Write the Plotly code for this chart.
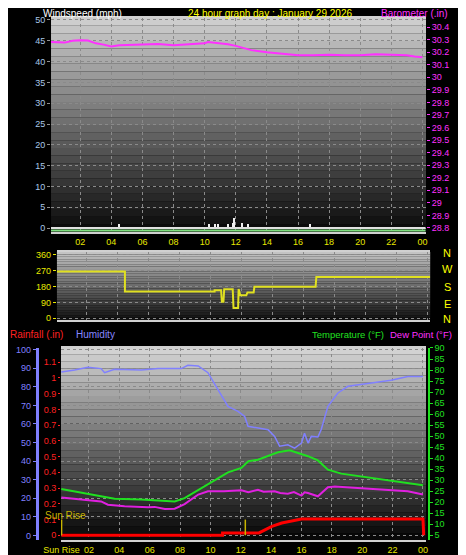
import plotly.graph_objects as go

# ---- data (hours since midnight) ----
baro_h = [0.1, 1, 1.5, 2, 2.5, 3, 3.5, 4, 4.5, 5, 6, 7, 8, 9, 10, 10.2, 11, 11.5, 12, 12.5, 13, 14, 15, 16, 17, 18, 19, 20, 21, 22, 23, 23.5, 24]
baro_v = [30.28, 30.276, 30.29, 30.295, 30.293, 30.27, 30.26, 30.245, 30.255, 30.258, 30.258, 30.265, 30.255, 30.265, 30.27, 30.28, 30.27, 30.262, 30.25, 30.23, 30.216, 30.2, 30.185, 30.176, 30.176, 30.18, 30.176, 30.176, 30.183, 30.18, 30.176, 30.165, 30.16]

wind_h = [4.53, 10.3, 10.7, 10.9, 11.5, 11.82, 11.87, 12.4, 12.8, 16.8]
wind_v = [1, 1, 1, 1, 1, 1.2, 2.3, 1.2, 1, 1]
avg_h = [0.1, 24.2]
avg_v = [0, 0]
gust_v = [-0.6, -0.6]

dir_h = [0.1, 4.49, 4.49, 10.28, 10.28, 10.7, 10.75, 10.85, 10.9, 11.45, 11.5, 11.8, 11.83, 11.94, 12.33, 12.4, 12.8, 12.85, 16.8, 16.85, 24.2]
dir_v = [264, 264, 151, 151, 158, 158, 94, 94, 165, 165, 59, 59, 165, 130, 130, 146, 146, 178, 178, 234, 234]

hum_h = [0.18, 1.06, 1.93, 2.8, 3.03, 3.69, 5.45, 6.55, 8.08, 8.52, 9.2, 9.84, 10.5, 11.16, 11.82, 12.26, 12.48, 13.13, 13.8, 14.23, 14.56, 15.1, 15.55, 16, 16.2, 16.43, 16.65, 17.08, 17.3, 17.74, 18.4, 19.06, 19.94, 20.8, 21.9, 23, 24]
hum_v = [88, 89, 90.5, 89.8, 87.6, 89.4, 89, 89.8, 89.8, 91.6, 91.2, 87.6, 78.5, 69.5, 66.8, 64, 58.7, 57.8, 56.9, 53.3, 48, 48.8, 47, 49.7, 55, 49.7, 53.3, 53, 57, 69.5, 76.7, 80.3, 81.2, 82.4, 83.5, 85.6, 85.6]

temp_h = [0.18, 1.72, 3.03, 3.69, 5.45, 7.65, 8.3, 9.2, 10.0, 10.7, 11.16, 12.04, 12.5, 13.13, 13.8, 14.45, 15.22, 15.77, 16.43, 17.08, 17.74, 18.62, 19.5, 20.8, 22.12, 23.44, 24]
temp_v = [26, 24.2, 22.7, 21.6, 21.2, 20.4, 21.9, 25.7, 29, 31.8, 33.6, 35.6, 38.6, 39.3, 40.9, 42.7, 43.6, 42.4, 40.9, 39, 34.8, 33, 32.1, 31, 29.5, 28, 27.7]

dew_h = [0.18, 1.72, 2.8, 3.25, 4.35, 5.9, 6.33, 7, 7.65, 8.3, 9.2, 9.84, 10.9, 12.04, 12.5, 13.13, 13.5, 14.23, 14.6, 15.1, 15.5, 16, 16.2, 16.43, 17.08, 17.74, 18.2, 19.7, 20.8, 23, 24]
dew_v = [22.2, 21.2, 20.4, 18.9, 18.2, 17.7, 17.9, 17, 17.1, 19.2, 23.5, 25, 25, 25.4, 24.6, 25.7, 24.8, 25, 24.2, 23.9, 24.6, 23, 24.5, 24.2, 22.7, 26.8, 27.2, 26.5, 26, 25, 23.5]

rain_h = [0.18, 10.8, 10.8, 13.2, 13.4, 14.05, 14.7, 15.1, 15.77, 16, 24, 24.05]
rain_v = [0, 0, 0.015, 0.015, 0.025, 0.057, 0.078, 0.085, 0.1, 0.104, 0.104, 0]

top_ticks = [2, 4, 6, 8, 10, 12, 14, 16, 18, 20, 22, 24]
top_labels = ["02", "04", "06", "08", "10", "12", "14", "16", "18", "20", "22", "00"]
bot_ticks = [0.2] + top_ticks
bot_labels = ["Sun Rise"] + top_labels

FONT = "Liberation Sans, Arial, sans-serif"
YEL = "#e8e800"
fig = go.Figure()

fig.add_trace(go.Bar(x=wind_h, y=wind_v, width=0.09, marker_color="#f0f0f0", marker_line_width=0, xaxis="x", yaxis="y"))
fig.add_trace(go.Scatter(x=avg_h, y=avg_v, mode="lines", line=dict(color="#e0e0e0", width=2), xaxis="x", yaxis="y"))
fig.add_trace(go.Scatter(x=avg_h, y=gust_v, mode="lines", line=dict(color="#80e080", width=2), xaxis="x", yaxis="y"))
fig.add_trace(go.Scatter(x=baro_h, y=baro_v, mode="lines", line=dict(color="#ff30ff", width=2), xaxis="x", yaxis="y2"))
fig.add_trace(go.Scatter(x=dir_h, y=dir_v, mode="lines", line=dict(color="#e0e020", width=2), xaxis="x2", yaxis="y3"))
fig.add_trace(go.Scatter(x=hum_h, y=hum_v, mode="lines", line=dict(color="#8080ff", width=1.5), xaxis="x3", yaxis="y4"))
fig.add_trace(go.Scatter(x=temp_h, y=temp_v, mode="lines", line=dict(color="#20e020", width=2), xaxis="x3", yaxis="y6"))
fig.add_trace(go.Scatter(x=dew_h, y=dew_v, mode="lines", line=dict(color="#e020e0", width=2), xaxis="x3", yaxis="y6"))
fig.add_trace(go.Scatter(x=rain_h, y=rain_v, mode="lines", line=dict(color="#ff0000", width=3), xaxis="x3", yaxis="y5"))

# panel gradients
shapes = []
def gradient(xr, yr, top, bot, n=28):
    for i in range(n):
        c = int(top + (bot - top) * i / (n - 1))
        shapes.append(dict(type="rect", xref=xr + " domain", yref=yr + " domain",
                           x0=0, x1=1, y0=1 - (i + 1) / n, y1=1 - i / n,
                           fillcolor=f"rgb({c},{c},{c})", line_width=0, layer="below"))
gradient("x", "y", 205, 12)
gradient("x2", "y3", 195, 18)
gradient("x3", "y4", 210, 8)
# sun rise / noon markers
for h in [0.2, 12.3]:
    shapes.append(dict(type="line", xref="x3", yref="y5", x0=h, x1=h, y0=0, y1=0.1,
                       line=dict(color="#c8b400", width=1.5)))
fig.update_layout(shapes=shapes)

grid = dict(showgrid=True, gridcolor="#8a8a8a", griddash="dot", gridwidth=1, zeroline=False, automargin=False)
tickf = dict(family=FONT, size=9)
xcommon = dict(tickvals=top_ticks, ticktext=top_labels, tickfont=dict(tickf, color=YEL), ticks="", **grid,
               showline=True, linecolor="#d0d0d0", linewidth=2, mirror=True)

fig.update_layout(
    width=466, height=555, margin=dict(l=0, r=0, t=0, b=0),
    paper_bgcolor="black", plot_bgcolor="black", showlegend=False, bargap=0,
    xaxis=dict(domain=[0.0923, 0.897], range=[0.12, 24.23], anchor="y", **xcommon),
    yaxis=dict(domain=[0.5964, 0.982], range=[-0.96, 50.48], tickvals=list(range(0, 51, 5)),
               tickfont=dict(tickf, color="#a8c8e8"), ticks="outside", ticklen=3, tickcolor="#909090", **grid),
    yaxis2=dict(overlaying="y", side="right", anchor="x", range=[28.768, 30.472],
                tickvals=[28.8 + 0.1 * i for i in range(17)],
                ticktext=["28.8", "28.9", "29", "29.1", "29.2", "29.3", "29.4", "29.5", "29.6", "29.7", "29.8", "29.9", "30", "30.1", "30.2", "30.3", "30.4"],
                tickfont=dict(tickf, color="#ff30ff"), ticks="outside", ticklen=3, tickcolor="#ff30ff",
                showgrid=False, zeroline=False, automargin=False),
    xaxis2=dict(domain=[0.105, 0.906], range=[0.1, 24.2], anchor="y3", showticklabels=False, **{k: v for k, v in xcommon.items() if k not in ("tickfont",)}),
    yaxis3=dict(domain=[0.4378, 0.5604], range=[-9.6, 375], tickvals=[0, 90, 180, 270, 360], anchor="x2",
                tickfont=dict(tickf, color=YEL), ticks="outside", ticklen=3, tickcolor=YEL, **grid),
    xaxis3=dict(domain=[0.1137, 0.897], range=[0.16, 24.2], anchor="y4", **dict(xcommon, tickvals=bot_ticks, ticktext=bot_labels)),
    yaxis4=dict(domain=[0.0414, 0.3874], range=[-2.5, 100.9], tickvals=list(range(0, 101, 10)), anchor="free", position=0.062,
                tickfont=dict(tickf, color="#8080ff"), showline=True, linecolor="#8080ff", linewidth=3,
                ticks="outside", ticklen=3, tickcolor="#8080ff", **grid),
    yaxis5=dict(overlaying="y4", range=[-0.03, 1.19], anchor="x3", side="left",
                tickvals=[0.1 * i for i in range(13)],
                ticktext=["0", "0.1", "0.2", "0.3", "0.4", "0.5", "0.6", "0.7", "0.8", "0.9", "1", "1.1", "1.2"],
                tickfont=dict(tickf, color="#ff2020"), ticks="outside", ticklen=2, tickcolor="#ff2020",
                showgrid=False, zeroline=False, automargin=False),
    yaxis6=dict(overlaying="y4", range=[2.87, 90], anchor="free", position=0.903, side="right",
                tickvals=list(range(5, 91, 5)), tickfont=dict(tickf, color="#20e020"),
                showline=True, linecolor="#20e020", linewidth=2, ticks="outside", ticklen=3,
                tickcolor="#20e020", showgrid=False, zeroline=False, automargin=False),
)

def ann(text, x, y, color, xanchor="left", size=10):
    fig.add_annotation(text=text, x=x, y=y, xref="paper", yref="paper", xanchor=xanchor, yanchor="middle",
                       showarrow=False, font=dict(family=FONT, size=size, color=color))

ann("Windspeed (mph)", 33 / 466, 1 - 5 / 555, "white")
ann("24 hour graph day : January 29 2026", 262 / 466, 1 - 5 / 555, "#ffff00", "center")
ann("Barometer (.in)", 442 / 466, 1 - 5 / 555, "#ff30ff", "right")
ann("Rainfall (.in)", 0, 1 - 326 / 555, "#ff2020")
ann("Humidity", 66 / 466, 1 - 326 / 555, "#8888ff")
ann("Temperature (°F)", 302 / 466, 1 - 326 / 555, "#20e020", size=9.5)
ann("Dew Point (°F)", 380 / 466, 1 - 326 / 555, "#ff30ff", "left", size=9.5)
ann("Sun Rise", 35 / 466, 1 - 507 / 555, "#c8b400", size=10)
for lab, py in zip(["N", "W", "S", "E", "N"], [245, 261, 279, 296, 311]):
    ann(lab, 439 / 466, 1 - py / 555, "#ffff00", "center", size=11)

fig.write_html("out.html")
